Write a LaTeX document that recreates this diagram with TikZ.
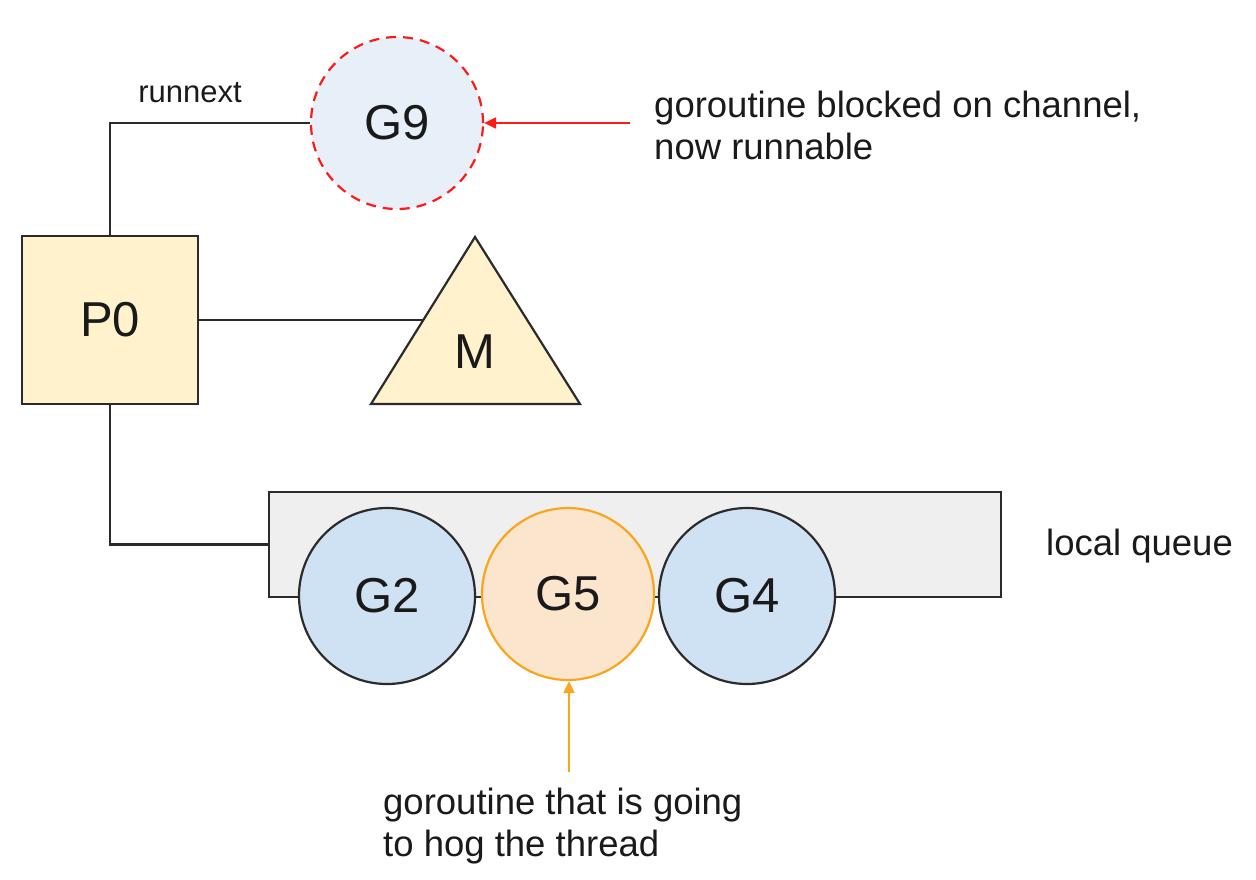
\documentclass[tikz,border=0pt]{standalone}
\usepackage{fontspec}
\setmainfont{Liberation Sans}
\usetikzlibrary{arrows.meta,calc}
\definecolor{linec}{HTML}{2B2B2B}
\definecolor{txtc}{HTML}{1A1A1A}
\definecolor{gninefill}{HTML}{E7F0F9}
\definecolor{gfill}{HTML}{CFE2F3}
\definecolor{ofill}{HTML}{FCE5CD}
\definecolor{odraw}{HTML}{F9A51E}
\definecolor{yfill}{HTML}{FFF2CC}
\definecolor{qfill}{HTML}{EFEFEF}
\definecolor{redc}{HTML}{FF1A1A}
\tikzset{
  big/.style={font=\fontsize{49}{54}\selectfont, text=txtc},
  lbl/.style={font=\fontsize{36.5}{42}\selectfont, text=txtc, align=left, inner sep=0},
  gcirc/.style={circle, draw=linec, line width=2.2pt, minimum size=176pt, inner sep=0, big},
  conn/.style={draw=linec, line width=2.2pt},
  tip/.style={-{Triangle[length=12pt,width=11pt]}, line width=2pt}
}
\begin{document}
\begin{tikzpicture}[x=1pt,y=-1pt]
\useasboundingbox (0,0) rectangle (1256,879);
% queue
\node[rectangle, draw=linec, line width=2.2pt, fill=qfill, minimum width=732pt, minimum height=105pt, inner sep=0] (Q) at (635,544.5) {};
% P0
\node[rectangle, draw=linec, line width=2.2pt, fill=yfill, minimum width=176pt, minimum height=168pt, inner sep=0, big] (P0) at (110,320) {P0};
% triangle M
\coordinate (apex) at (475,237);
\coordinate (bl) at (371,404);
\coordinate (br) at (580,404);
\draw[linec, line width=2.2pt, fill=yfill, line join=miter] (apex) -- (br) -- (bl) -- cycle;
\node[big, inner sep=0] (M) at (475,352) {M};
\coordinate (Mleft) at (423.3,320);
% G9
\node[gcirc, draw=redc, fill=gninefill, dashed, dash pattern=on 10pt off 7pt, minimum size=172pt] (G9) at (397,123) {G9};
% queue circles
\node[gcirc, fill=gfill] (G2) at (387,596) {G2};
\node[gcirc, draw=odraw, fill=ofill, minimum size=172pt] (G5) at (568,594) {G5};
\node[gcirc, fill=gfill] (G4) at (747,596) {G4};
% connectors
\draw[conn] (G9.west) -| (P0.north);
\draw[conn] (P0.east) -- (Mleft);
\draw[conn] (P0.south) |- (Q.west);
% labels
\node[font=\fontsize{31}{36}\selectfont, text=txtc, inner sep=0] (rn) at (190,93) {runnext};
\node[lbl, anchor=west] (lq) at (1046,546) {local queue};
\node[lbl, anchor=west] (blk) at (654,125) {goroutine blocked on channel,\\now runnable};
\node[lbl, anchor=west] (hog) at (383,826) {goroutine that is going\\to hog the thread};
% arrows
\coordinate (rs) at (630,123);
\draw[tip, draw=redc, fill=redc] (rs) -- (G9.east);
\coordinate (os) at (569,772);
\draw[tip, draw=odraw, fill=odraw] (os) -- (G5.south -| os);
\end{tikzpicture}
\end{document}
